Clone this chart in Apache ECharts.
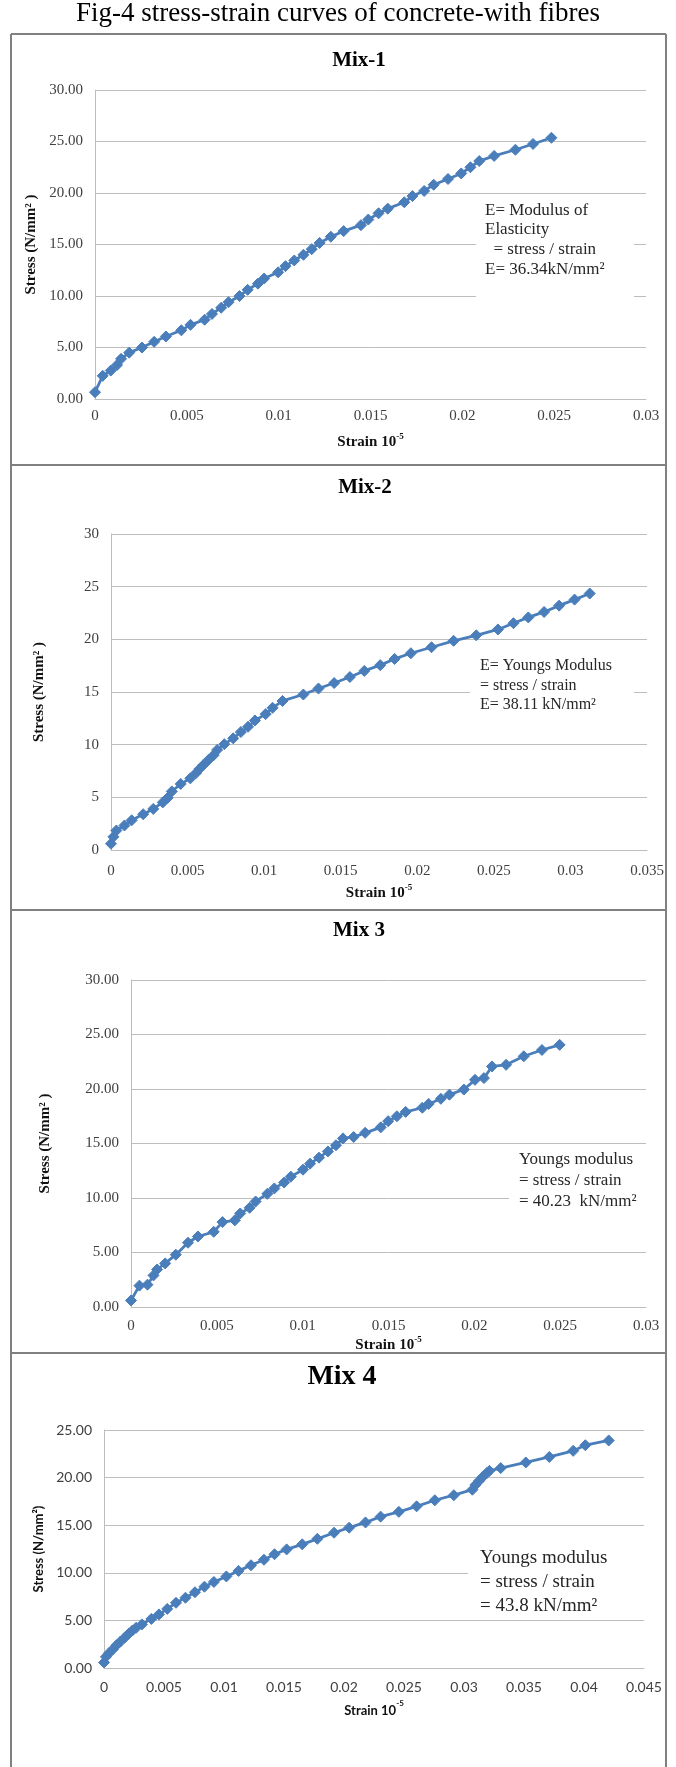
<!DOCTYPE html>
<html><head><meta charset="utf-8">
<script src="https://cdn.jsdelivr.net/npm/echarts@6/dist/echarts.min.js"></script>
<style>html,body{margin:0;padding:0;background:#fff}#c{width:676px;height:1767px}</style>
</head><body><div id="c"></div>
<script>
// ---------------- DATA ----------------
const figTitle = 'Fig-4 stress-strain curves of concrete-with fibres';
const mixTitles = ['Mix-1', 'Mix-2', 'Mix 3', 'Mix 4'];

const mix1Strain = [0, 0.00042, 0.00086, 0.0012, 0.00142, 0.00186, 0.00256, 0.00322, 0.00386, 0.0047, 0.0052, 0.00597, 0.00637, 0.00687, 0.00727, 0.00787, 0.00831, 0.00887, 0.00921, 0.00997, 0.01037, 0.01085, 0.01135, 0.0118, 0.01223, 0.01284, 0.01354, 0.01448, 0.01488, 0.01544, 0.01594, 0.01684, 0.01728, 0.01792, 0.01844, 0.01922, 0.01994, 0.02044, 0.02092, 0.02173, 0.02289, 0.02385, 0.02485];
const mix1Stress = [0.66, 2.25, 2.76, 3.3, 3.9, 4.5, 5.0, 5.55, 6.07, 6.67, 7.2, 7.7, 8.26, 8.86, 9.4, 10.0, 10.6, 11.2, 11.7, 12.3, 12.9, 13.45, 14.0, 14.55, 15.15, 15.76, 16.3, 16.88, 17.42, 18.03, 18.48, 19.1, 19.7, 20.2, 20.8, 21.36, 21.9, 22.5, 23.1, 23.6, 24.2, 24.76, 25.36];

const mix2Strain = [0, 0.00016, 0.00035, 0.00088, 0.00135, 0.0021, 0.00276, 0.00338, 0.0037, 0.00397, 0.00455, 0.00518, 0.00555, 0.00578, 0.00605, 0.00636, 0.0067, 0.00693, 0.0074, 0.00798, 0.00848, 0.00895, 0.0094, 0.0101, 0.01055, 0.0112, 0.01256, 0.01355, 0.01457, 0.0156, 0.01654, 0.01758, 0.01852, 0.01958, 0.02093, 0.02237, 0.02385, 0.02527, 0.02628, 0.02725, 0.02828, 0.02926, 0.03027, 0.03126];
const mix2Stress = [0.6, 1.25, 1.85, 2.33, 2.82, 3.4, 3.9, 4.52, 4.95, 5.56, 6.27, 6.8, 7.3, 7.7, 8.1, 8.55, 9.0, 9.5, 10.05, 10.6, 11.2, 11.7, 12.3, 12.9, 13.5, 14.15, 14.76, 15.33, 15.85, 16.42, 17.0, 17.55, 18.14, 18.68, 19.25, 19.86, 20.38, 20.94, 21.53, 22.08, 22.6, 23.2, 23.77, 24.35];

const mix3Strain = [0, 0.00049, 0.00096, 0.00131, 0.00152, 0.00199, 0.00261, 0.00332, 0.0039, 0.00482, 0.00533, 0.00605, 0.00636, 0.00691, 0.00726, 0.00794, 0.00835, 0.00892, 0.00931, 0.01002, 0.01043, 0.01095, 0.01147, 0.01194, 0.01235, 0.01297, 0.01364, 0.01455, 0.01498, 0.01549, 0.016, 0.01697, 0.01734, 0.01805, 0.01855, 0.01939, 0.02004, 0.02056, 0.02103, 0.02185, 0.02288, 0.02394, 0.02497];
const mix3Stress = [0.6, 1.96, 2.05, 2.9, 3.44, 4.0, 4.8, 5.9, 6.47, 6.9, 7.79, 7.95, 8.58, 9.1, 9.68, 10.38, 10.88, 11.42, 11.96, 12.6, 13.15, 13.7, 14.27, 14.84, 15.47, 15.6, 15.98, 16.48, 17.05, 17.5, 17.9, 18.28, 18.63, 19.1, 19.48, 19.95, 20.84, 21.0, 22.07, 22.22, 23.0, 23.58, 24.05];

const mix4Strain = [0, 0.00016, 0.00041, 0.00073, 0.00104, 0.00136, 0.00174, 0.00205, 0.00237, 0.00268, 0.00316, 0.00395, 0.00458, 0.00527, 0.006, 0.00679, 0.00758, 0.00837, 0.00916, 0.0102, 0.01121, 0.01225, 0.01333, 0.01421, 0.01522, 0.01652, 0.01778, 0.01917, 0.02043, 0.02179, 0.02305, 0.02457, 0.02605, 0.02757, 0.02915, 0.0307, 0.03095, 0.03126, 0.03158, 0.0319, 0.03212, 0.03306, 0.03515, 0.03711, 0.0391, 0.04011, 0.04206];
const mix4Stress = [0.58, 1.17, 1.55, 1.95, 2.39, 2.77, 3.21, 3.59, 3.94, 4.23, 4.58, 5.16, 5.63, 6.21, 6.85, 7.38, 7.96, 8.54, 9.04, 9.62, 10.2, 10.79, 11.37, 11.95, 12.46, 12.99, 13.57, 14.21, 14.74, 15.29, 15.9, 16.4, 16.98, 17.62, 18.15, 18.73, 19.23, 19.66, 20.1, 20.48, 20.71, 21.0, 21.59, 22.17, 22.81, 23.4, 23.9];

const xTicks1 = ['0', '0.005', '0.01', '0.015', '0.02', '0.025', '0.03'];
const xTicks2 = ['0', '0.005', '0.01', '0.015', '0.02', '0.025', '0.03', '0.035'];
const xTicks3 = ['0', '0.005', '0.01', '0.015', '0.02', '0.025', '0.03'];
const xTicks4 = ['0', '0.005', '0.01', '0.015', '0.02', '0.025', '0.03', '0.035', '0.04', '0.045'];
const yTicks1 = ['0.00', '5.00', '10.00', '15.00', '20.00', '25.00', '30.00'];
const yTicks2 = ['0', '5', '10', '15', '20', '25', '30'];
const yTicks3 = ['0.00', '5.00', '10.00', '15.00', '20.00', '25.00', '30.00'];
const yTicks4 = ['0.00', '5.00', '10.00', '15.00', '20.00', '25.00'];

const note1 = ['E= Modulus of', 'Elasticity', '  = stress / strain', 'E= 36.34kN/mm²'];
const note2 = ['E= Youngs Modulus', '= stress / strain', 'E= 38.11 kN/mm²'];
const note3 = ['Youngs modulus', '= stress / strain', '= 40.23  kN/mm²'];
const note4 = ['Youngs modulus', '= stress / strain', '= 43.8 kN/mm²'];

// ---------------- STYLE / LAYOUT ----------------
const SERIF = '"Liberation Serif","Times New Roman",serif';
const SANS = 'Lato,"Open Sans",sans-serif';
const BLUE = '#4A7EBB';
const GRIDC = '#BDBDBD';

const panels = [
  { strain: mix1Strain, stress: mix1Stress, xt: xTicks1, yt: yTicks1, xMax: 0.03, yMax: 30,
    grid: { left: 95, top: 90, width: 551, height: 309 }, font: SERIF, tickSize: 15, nameSize: 15,
    xMargin: 10, xGap: 33, yGap: 47, title: { x: 359, y: 61, size: 21 },
    note: note1, noteBox: { x: 476, y: 200, w: 158, h: 100 }, noteX: 485, noteY: [211, 230, 250, 270], noteSize: 17 },
  { strain: mix2Strain, stress: mix2Stress, xt: xTicks2, yt: yTicks2, xMax: 0.035, yMax: 30,
    grid: { left: 111, top: 534, width: 536, height: 316 }, font: SERIF, tickSize: 15, nameSize: 15,
    xMargin: 14, xGap: 33, yGap: 64, title: { x: 365, y: 488, size: 21 },
    note: note2, noteBox: { x: 470, y: 655, w: 164, h: 70 }, noteX: 480, noteY: [666, 686, 705], noteSize: 16 },
  { strain: mix3Strain, stress: mix3Stress, xt: xTicks3, yt: yTicks3, xMax: 0.03, yMax: 30,
    grid: { left: 131, top: 980, width: 515, height: 327 }, font: SERIF, tickSize: 15, nameSize: 15,
    xMargin: 12, xGap: 27, yGap: 78, title: { x: 359, y: 931, size: 21 },
    note: note3, noteBox: { x: 509, y: 1147, w: 137, h: 68 }, noteX: 519, noteY: [1160, 1181, 1202], noteSize: 17 },
  { strain: mix4Strain, stress: mix4Stress, xt: xTicks4, yt: yTicks4, xMax: 0.045, yMax: 25,
    grid: { left: 104, top: 1430, width: 540, height: 238 }, font: SANS, tickSize: 14, nameSize: 13,
    xMargin: 12, xGap: 31, yGap: 55, title: { x: 342, y: 1377, size: 28 },
    note: note4, noteBox: { x: 468, y: 1543, w: 176, h: 73 }, noteX: 480, noteY: [1558, 1582, 1606], noteSize: 19 }
];

const grids = [], xAxes = [], yAxes = [], series = [], graphics = [];

panels.forEach((p, i) => {
  grids.push(Object.assign({ containLabel: false }, p.grid));
  const isSans = p.font === SANS;
  xAxes.push({
    type: 'value', gridIndex: i, min: 0, max: p.xMax, interval: 0.005,
    axisLine: { show: true, onZero: false, lineStyle: { color: GRIDC, width: 1 } },
    axisTick: { show: false }, splitLine: { show: false },
    axisLabel: { margin: p.xMargin, color: '#404040', fontFamily: p.font, fontSize: p.tickSize,
      formatter: (v, idx) => p.xt[idx] },
    name: '{b|Strain 10}{s|-5}', nameLocation: 'middle', nameGap: p.xGap,
    nameTextStyle: { rich: {
      b: { fontFamily: p.font, fontWeight: 'bold', fontSize: p.nameSize, color: '#111', lineHeight: 18, verticalAlign: 'bottom' },
      s: { fontFamily: p.font, fontWeight: 'bold', fontSize: Math.round(p.nameSize * 0.62), color: '#111', lineHeight: 18, verticalAlign: 'top' }
    } }
  });
  yAxes.push({
    type: 'value', gridIndex: i, min: 0, max: p.yMax, interval: 5,
    axisLine: { show: true, lineStyle: { color: GRIDC, width: 1 } },
    axisTick: { show: false },
    splitLine: { show: true, lineStyle: { color: GRIDC, width: 1 } },
    axisLabel: { margin: 12, color: '#404040', fontFamily: p.font, fontSize: p.tickSize,
      formatter: (v, idx) => p.yt[idx] },
    name: isSans ? 'Stress (N/mm²)' : 'Stress (N/mm² )', nameLocation: 'middle', nameGap: p.yGap, nameRotate: 90,
    nameTextStyle: { fontFamily: p.font, fontWeight: 'bold', fontSize: p.nameSize, color: '#111' }
  });
  series.push({
    type: 'line', name: mixTitles[i], xAxisIndex: i, yAxisIndex: i,
    data: p.strain.map((x, k) => [x, p.stress[k]]),
    symbol: 'diamond', symbolSize: 11, showSymbol: true, clip: false,
    itemStyle: { color: BLUE, borderColor: BLUE },
    lineStyle: { color: BLUE, width: 2.8 },
    animation: false
  });
  graphics.push({ type: 'text', x: p.title.x, y: p.title.y, z: 20,
    style: { text: mixTitles[i], font: `bold ${p.title.size}px ${SERIF}`, fill: '#000',
      align: 'center', verticalAlign: 'middle', textAlign: 'center', textVerticalAlign: 'middle' } });
  graphics.push({ type: 'rect', z: 15, shape: { x: p.noteBox.x, y: p.noteBox.y, width: p.noteBox.w, height: p.noteBox.h },
    style: { fill: '#fff', stroke: null } });
  p.note.forEach((line, k) => {
    graphics.push({ type: 'text', x: p.noteX, y: p.noteY[k], z: 20,
      style: { text: line, font: `${p.noteSize}px ${SERIF}`, fill: '#262626',
        align: 'left', verticalAlign: 'middle', textAlign: 'left', textVerticalAlign: 'middle' } });
  });
});

graphics.push({ type: 'text', x: 338, y: 14, z: 20,
  style: { text: figTitle, font: `27px ${SERIF}`, fill: '#000',
    align: 'center', verticalAlign: 'middle', textAlign: 'center', textVerticalAlign: 'middle' } });
const bx0 = 11, bx1 = 666;
[34, 465, 910, 1353].forEach(y => graphics.push({ type: 'line', z: 20,
  shape: { x1: bx0, y1: y, x2: bx1, y2: y }, style: { stroke: '#808080', lineWidth: 2 } }));
[bx0, bx1].forEach(x => graphics.push({ type: 'line', z: 20,
  shape: { x1: x, y1: 34, x2: x, y2: 1767 }, style: { stroke: '#808080', lineWidth: 2 } }));

const chart = echarts.init(document.getElementById('c'), null, { renderer: 'canvas' });
chart.setOption({
  animation: false,
  backgroundColor: '#fff',
  grid: grids, xAxis: xAxes, yAxis: yAxes, series: series,
  graphic: { elements: graphics }
});
</script></body></html>
